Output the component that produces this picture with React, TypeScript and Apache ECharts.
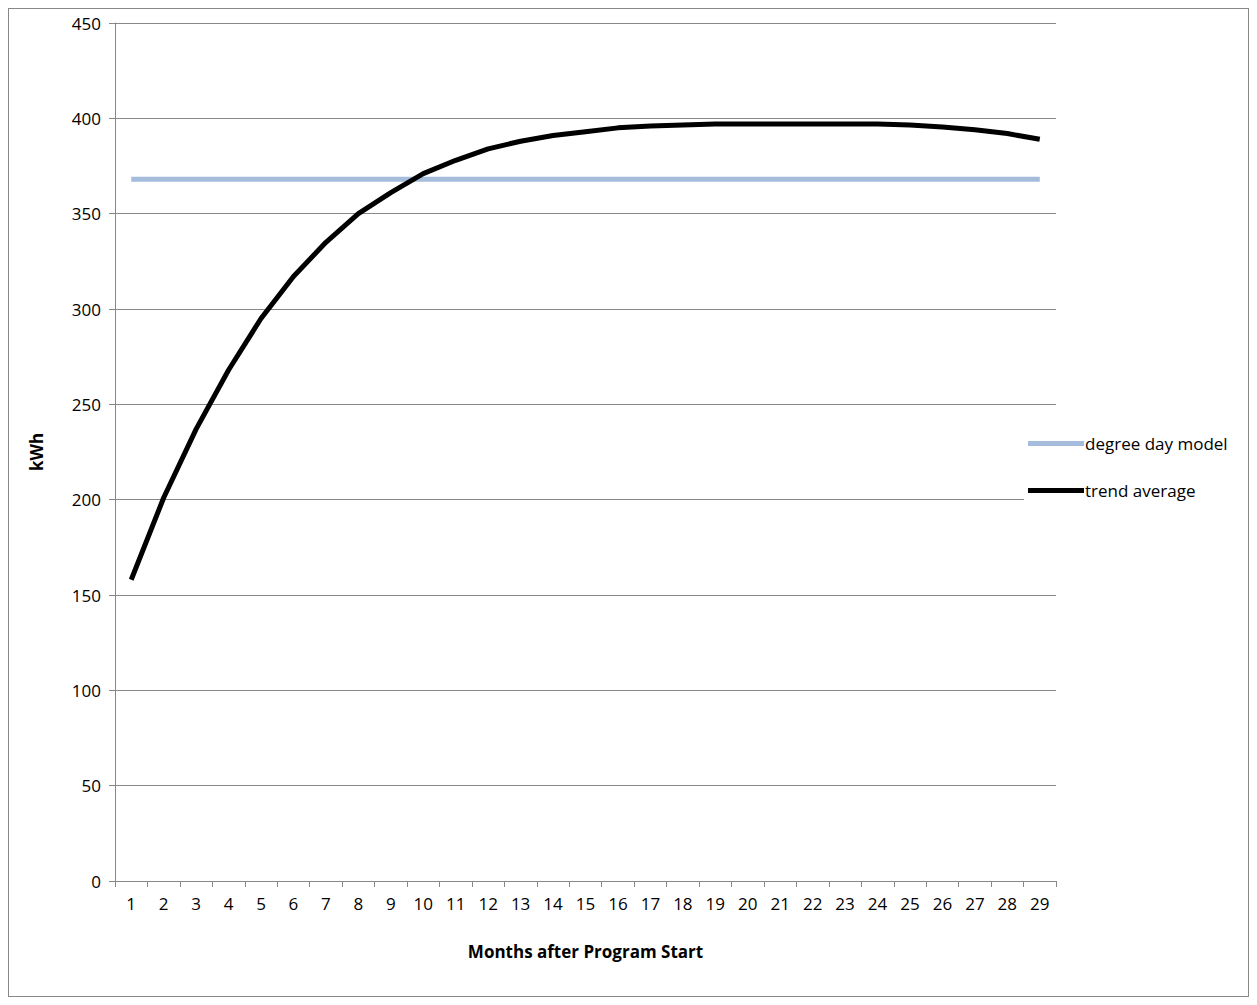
import React, { useEffect, useRef } from "react";
import * as echarts from "echarts";

const months = Array.from({ length: 29 }, (_, i) => String(i + 1));
const degreeDayModel = [368,368,368,368,368,368,368,368,368,368,368,368,368,368,368,368,368,368,368,368,368,368,368,368,368,368,368,368,368];
const trendAverage = [158,201,237,268,295,317,335,350,361,371,378,384,388,391,393,395,396,396.5,397,397,397,397,397,397,396.5,395.5,394,392,389];

export default function App() {
  const ref = useRef<HTMLDivElement>(null);
  useEffect(() => {
    const chart = echarts.init(ref.current!, null, { renderer: "svg" });
    const font = "'Open Sans', 'Liberation Sans', sans-serif";
    chart.setOption({
      animation: false,
      textStyle: { fontFamily: font },
      grid: { left: 106, top: 14, width: 941, height: 858 },
      legend: {
        orient: "vertical",
        left: 1015,
        top: 420,
        backgroundColor: "#fff",
        padding: [6, 4, 6, 4],
        itemGap: 30,
        itemWidth: 56,
        itemHeight: 5,
        icon: "rect",
        textStyle: { fontSize: 17, color: "#000", fontFamily: font, padding: [0, 0, 0, -4] },
        data: ["degree day model", "trend average"],
      },
      xAxis: {
        type: "category",
        data: months,
        boundaryGap: true,
        name: "Months after Program Start",
        nameLocation: "middle",
        nameGap: 62,
        nameTextStyle: { fontWeight: "bold", fontSize: 17, color: "#000" },
        axisLine: { lineStyle: { color: "#888" } },
        axisTick: { show: true, length: 6, lineStyle: { color: "#888" } },
        axisLabel: { fontSize: 17, color: "#000", margin: 14, interval: 0 },
      },
      yAxis: {
        type: "value",
        min: 0,
        max: 450,
        interval: 50,
        name: "kWh",
        nameLocation: "middle",
        nameGap: 70,
        nameTextStyle: { fontWeight: "bold", fontSize: 17, color: "#000" },
        axisLine: { show: true, lineStyle: { color: "#888" } },
        axisTick: { show: true, length: 6, lineStyle: { color: "#888" } },
        axisLabel: { fontSize: 17, color: "#000", margin: 14 },
        splitLine: { lineStyle: { color: "#888" } },
      },
      series: [
        {
          name: "degree day model",
          type: "line",
          data: degreeDayModel,
          showSymbol: false,
          color: "#a5bcdc",
          lineStyle: { width: 5, color: "#a5bcdc" },
        },
        {
          name: "trend average",
          type: "line",
          data: trendAverage,
          showSymbol: false,
          smooth: false,
          color: "#000",
          lineStyle: { width: 5, color: "#000", join: "round" },
        },
      ],
    });
    return () => chart.dispose();
  }, []);
  return (
    <div
      ref={ref}
      style={{ width: 1241, height: 989, border: "1px solid #888", boxSizing: "border-box" }}
    />
  );
}
